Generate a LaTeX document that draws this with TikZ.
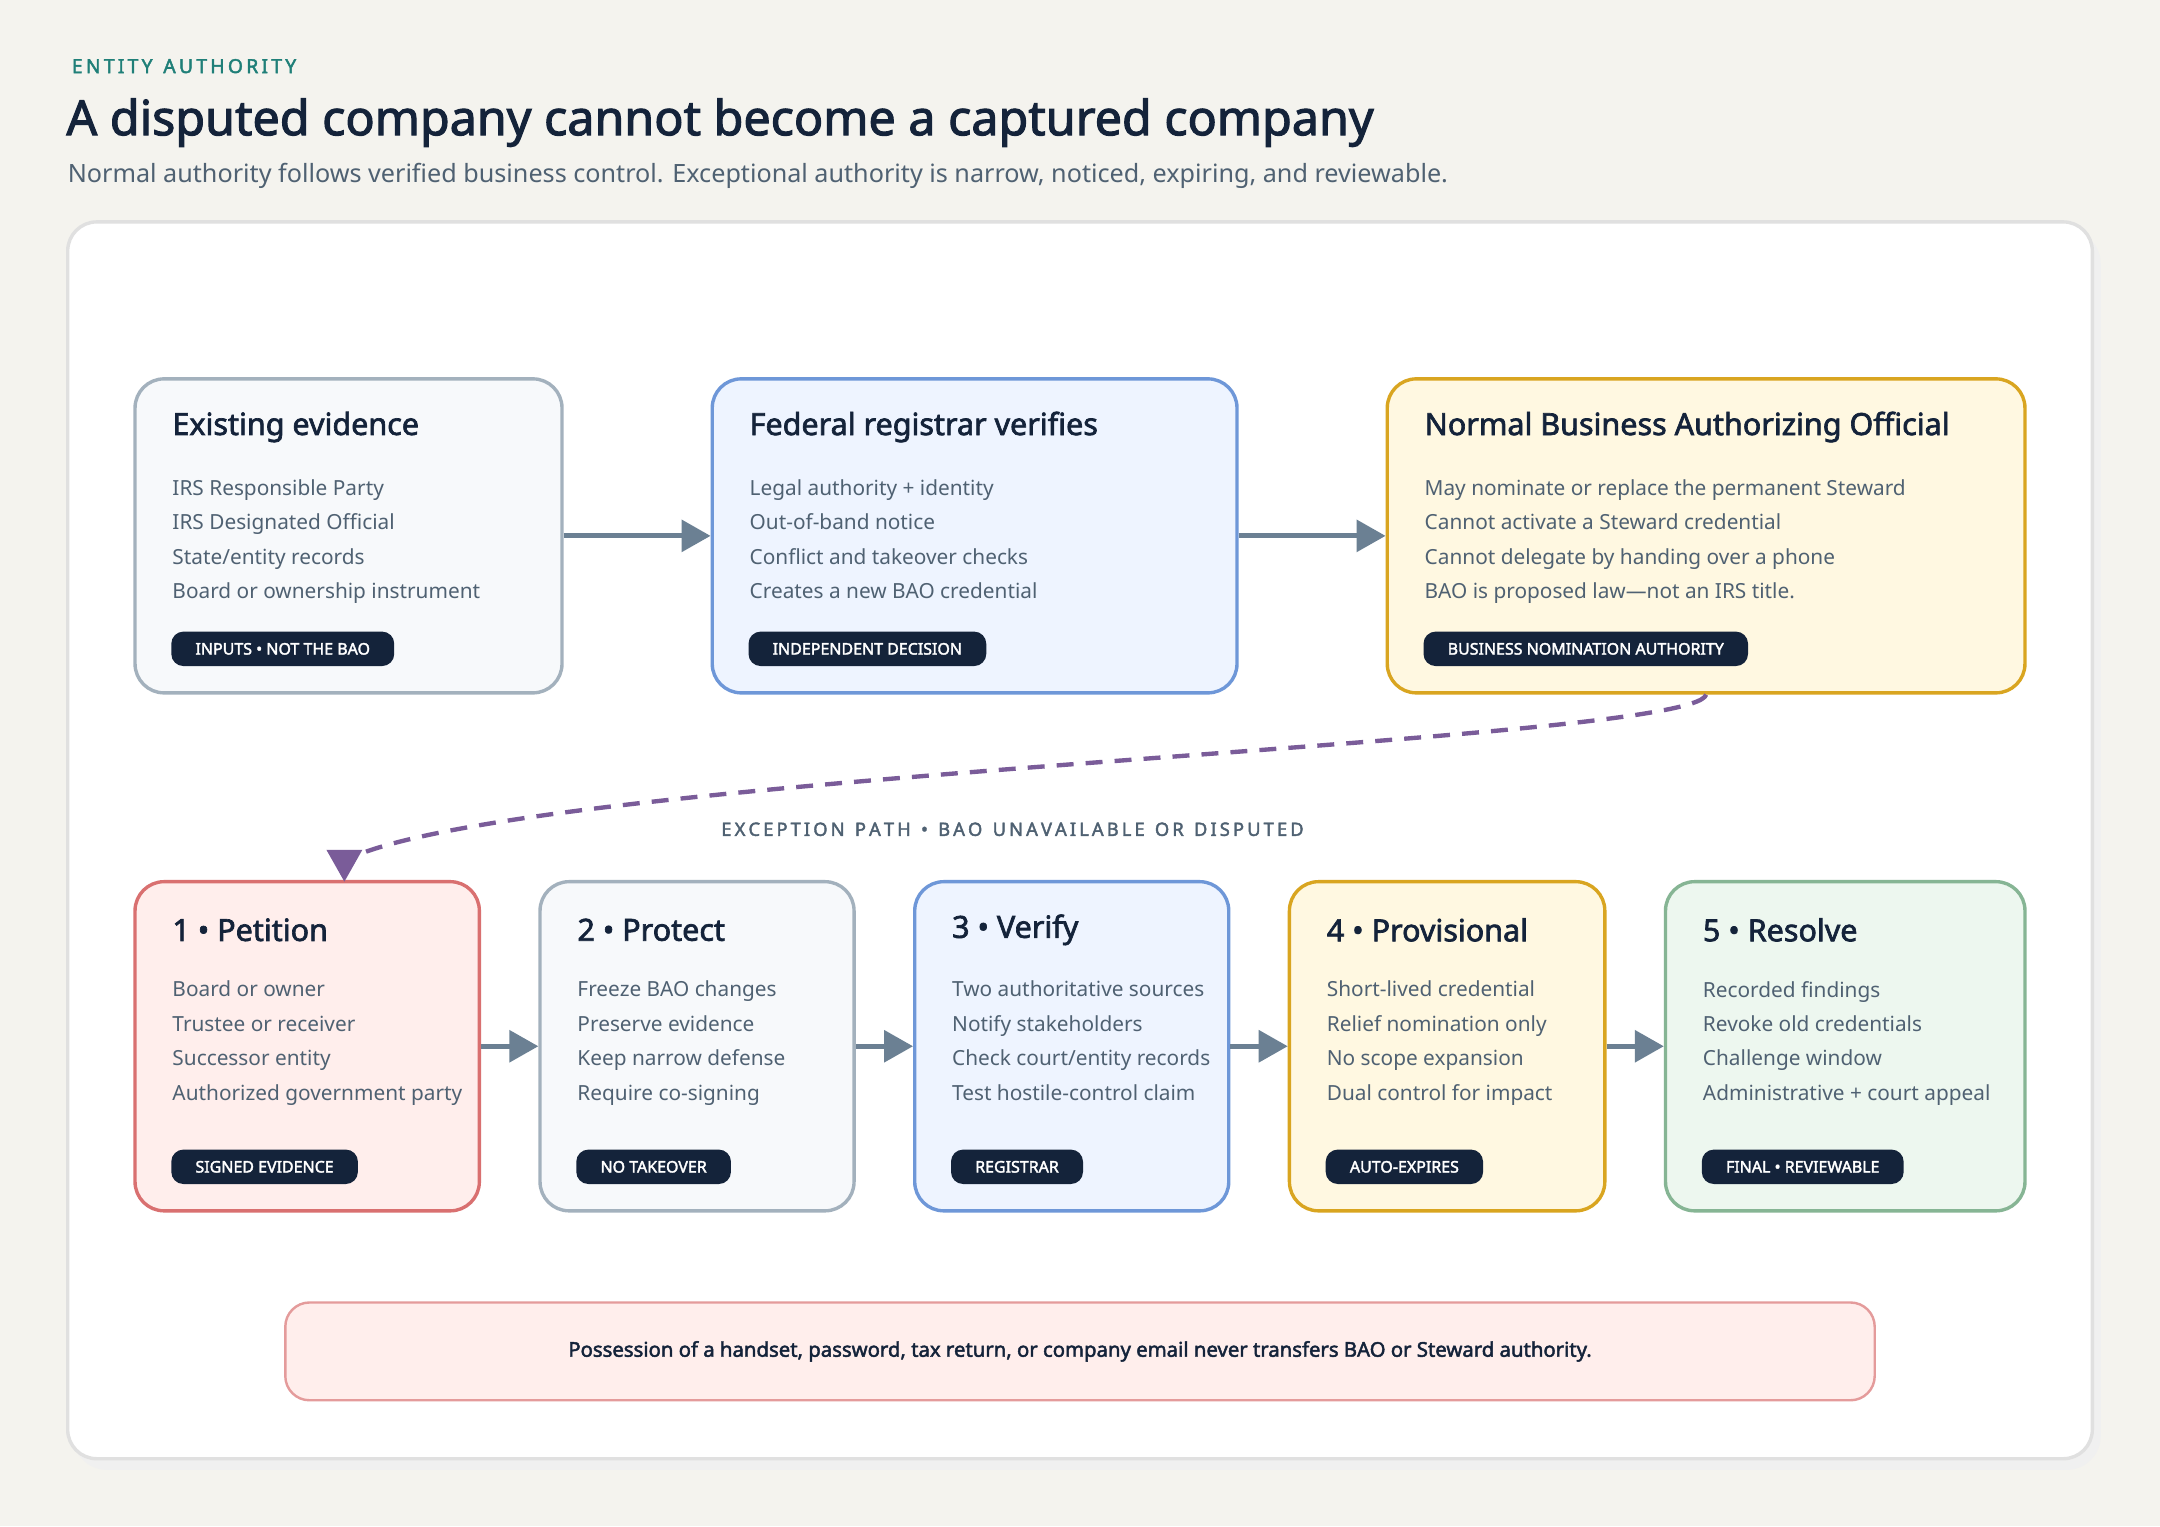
\documentclass[tikz,border=0pt]{standalone}
\usepackage{fontspec}
\setmainfont{Noto Sans}[AutoFakeBold=2.2]
\usetikzlibrary{arrows.meta,positioning,calc}
\definecolor{pagebg}{HTML}{F4F3EE}
\definecolor{ink}{HTML}{14233A}
\definecolor{muted}{HTML}{4F6172}
\definecolor{teal}{HTML}{1F7F78}
\definecolor{arrowc}{HTML}{6B8093}
\definecolor{purp}{HTML}{7A5C99}
\definecolor{grayF}{HTML}{F7F9FB}\definecolor{grayD}{HTML}{A3B1BD}
\definecolor{blueF}{HTML}{EEF4FF}\definecolor{blueD}{HTML}{6E97D8}
\definecolor{goldF}{HTML}{FFF8E1}\definecolor{goldD}{HTML}{D9A520}
\definecolor{redF}{HTML}{FFEEEC}\definecolor{redD}{HTML}{D97070}
\definecolor{greenF}{HTML}{EDF7EF}\definecolor{greenD}{HTML}{86B594}
\tikzset{
  box/.style={rectangle, rounded corners=12pt, line width=1.4pt},
  head/.style={anchor=west, font=\fontsize{12.6}{15}\selectfont\bfseries, text=ink},
  item/.style={anchor=north west, align=left, font=\fontsize{8.6}{14.2}\selectfont, text=muted},
  badge/.style={anchor=west, rectangle, rounded corners=5pt, fill=ink, text=white,
    font=\fontsize{6.6}{8}\selectfont\bfseries, minimum height=0.5cm, inner xsep=10pt},
  flow/.style={-{Triangle[length=12pt,width=13pt]}, line width=2pt, draw=arrowc}
}
\begin{document}
\begin{tikzpicture}[x=0.02cm,y=-0.02cm]
% page and card
\fill[pagebg] (0,0) rectangle (1568,1108);
\useasboundingbox (0,0) rectangle (1568,1108);
\fill[black!6, rounded corners=14pt] (53,167) rectangle (1525,1067);
\node[box, draw=black!12, fill=white, minimum width=29.4cm, minimum height=17.96cm] (card) at (784,610) {};

% heading
\node[anchor=west, text=teal, font=\fontsize{8}{10}\selectfont\bfseries] (kicker) at (46,48) {E\,N\,T\,I\,T\,Y\;\;A\,U\,T\,H\,O\,R\,I\,T\,Y};
\node[anchor=west, text=ink, font=\fontsize{20}{24}\selectfont\bfseries] (title) at (42,89) {A disputed company cannot become a captured company};
\node[anchor=west, text=muted, font=\fontsize{10.4}{12}\selectfont] (sub) at (43,128) {Normal authority follows verified business control. Exceptional authority is narrow, noticed, expiring, and reviewable.};

% top row
\node[box, draw=grayD, fill=grayF, minimum width=6.2cm, minimum height=4.56cm] (evid) at (253,389) {};
\node[head] at (119,310) {Existing evidence};
\node[item] at (119,342) {IRS Responsible Party\\IRS Designated Official\\State/entity records\\Board or ownership instrument};
\node[badge] at (124,471) {INPUTS • NOT THE BAO};

\node[box, draw=blueD, fill=blueF, minimum width=7.62cm, minimum height=4.56cm] (reg) at (707.5,389) {};
\node[head] at (538,310) {Federal registrar verifies};
\node[item] at (538,342) {Legal authority + identity\\Out-of-band notice\\Conflict and takeover checks\\Creates a new BAO credential};
\node[badge] at (543,471) {INDEPENDENT DECISION};

\node[box, draw=goldD, fill=goldF, minimum width=9.26cm, minimum height=4.56cm] (nba) at (1238.5,389) {};
\node[head] at (1028,310) {Normal Business Authorizing Official};
\node[item] at (1028,342) {May nominate or replace the permanent Steward\\Cannot activate a Steward credential\\Cannot delegate by handing over a phone\\BAO is proposed law—not an IRS title.};
\node[badge] at (1033,471) {BUSINESS NOMINATION AUTHORITY};

\draw[flow] (evid) -- (reg);
\draw[flow] (reg) -- (nba);

% exception path
\node[text=muted, font=\fontsize{7.6}{9}\selectfont\bfseries] (exc) at (735,602) {E\,X\,C\,E\,P\,T\,I\,O\,N\;\;P\,A\,T\,H\;\;•\;\;B\,A\,O\;\;U\,N\,A\,V\,A\,I\,L\,A\,B\,L\,E\;\;O\,R\;\;D\,I\,S\,P\,U\,T\,E\,D};

% bottom row
\node[box, draw=redD, fill=redF, minimum width=5cm, minimum height=4.78cm] (pet) at (223,759.5) {};
\node[head] at (119,675) {1 • Petition};
\node[item] at (119,706) {Board or owner\\Trustee or receiver\\Successor entity\\Authorized government party};
\node[badge] at (124,847) {SIGNED EVIDENCE};

\node[box, draw=grayD, fill=grayF, minimum width=4.56cm, minimum height=4.78cm] (prot) at (506,759.5) {};
\node[head] at (413,675) {2 • Protect};
\node[item] at (413,706) {Freeze BAO changes\\Preserve evidence\\Keep narrow defense\\Require co-signing};
\node[badge] at (418,847) {NO TAKEOVER};

\node[box, draw=blueD, fill=blueF, minimum width=4.56cm, minimum height=4.78cm] (ver) at (778,759.5) {};
\node[head] at (685,675) {3 • Verify};
\node[item] at (685,706) {Two authoritative sources\\Notify stakeholders\\Check court/entity records\\Test hostile-control claim};
\node[badge] at (690,847) {REGISTRAR};

\node[box, draw=goldD, fill=goldF, minimum width=4.58cm, minimum height=4.78cm] (prov) at (1050.5,759.5) {};
\node[head] at (957,675) {4 • Provisional};
\node[item] at (957,706) {Short-lived credential\\Relief nomination only\\No scope expansion\\Dual control for impact};
\node[badge] at (962,847) {AUTO-EXPIRES};

\node[box, draw=greenD, fill=greenF, minimum width=5.22cm, minimum height=4.78cm] (res) at (1339.5,759.5) {};
\node[head] at (1230,675) {5 • Resolve};
\node[item] at (1230,706) {Recorded findings\\Revoke old credentials\\Challenge window\\Administrative + court appeal};
\node[badge] at (1235,847) {FINAL • REVIEWABLE};

\draw[flow] (pet) -- (prot);
\draw[flow] (prot) -- (ver);
\draw[flow] (ver) -- (prov);
\draw[flow] (prov) -- (res);

% dashed exception connector
\coordinate (petin) at (250,640);
\coordinate (dashend) at (256,622);
\draw[purp, line width=1.8pt, dash pattern=on 7pt off 5pt]
  (nba.south) .. controls (1230,540) and (400,560) .. (dashend);
\fill[purp] (petin) -- ++(-13,-23) -- ++(26,0) -- cycle;

% footer note
\node[box, rounded corners=10pt, draw=redD!70, fill=redF, line width=1pt, minimum width=23.08cm, minimum height=1.42cm,
  font=\fontsize{8.4}{10}\selectfont\bfseries, text=ink] (note) at (784,981)
  {Possession of a handset, password, tax return, or company email never transfers BAO or Steward authority.};
\end{tikzpicture}
\end{document}
